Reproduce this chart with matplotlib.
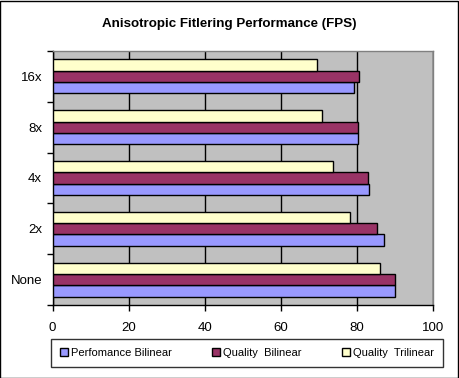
import numpy as np
import matplotlib.pyplot as plt
from matplotlib.patches import Rectangle

#------------Data----------------------#
categories = ["None", "2x", "4x", "8x", "16x"]
perf_bilinear = [90.0, 87.1, 83.3, 80.3, 79.3]
qual_bilinear = [90.0, 85.3, 82.9, 80.3, 80.6]
qual_trilinear = [86.1, 78.3, 73.7, 70.9, 69.4]
series_names = ["Perfomance Bilinear", "Quality  Bilinear", "Quality  Trilinear"]
colors = ["#9999FF", "#993366", "#FFFFCC"]

plt.rcParams['font.family'] = ['Liberation Sans', 'DejaVu Sans']

#------------Figure----------------------#
fig = plt.figure(figsize=(4.59, 3.78), dpi=100)
ax = fig.add_axes([52.5 / 459, 1 - 305 / 378, 380.5 / 459, 254 / 378])
ax.set_facecolor("#C0C0C0")

y = np.arange(len(categories))
h = 1 / 4.5
for i, vals in enumerate([perf_bilinear, qual_bilinear, qual_trilinear]):
    ax.barh(y + (i - 1) * h, vals, height=h, color=colors[i],
            edgecolor="black", linewidth=1.0, label=series_names[i], zorder=3)

ax.set_xlim(0, 100)
ax.set_ylim(-0.5, len(categories) - 0.5)
ax.set_xticks([0, 20, 40, 60, 80, 100])
ax.xaxis.grid(True, color="black", linewidth=1.0, zorder=1)
ax.set_axisbelow(True)

ax.set_yticks(y)
ax.set_yticklabels(categories)
ax.set_yticks(np.arange(-0.5, len(categories)), minor=True)
ax.tick_params(axis="y", which="major", length=0, pad=7.5, labelsize=9.5)
ax.tick_params(axis="y", which="minor", length=4, width=1, direction="out")
ax.tick_params(axis="x", length=4, width=1, direction="out", pad=8, labelsize=9.5)

for s in ["left", "bottom"]:
    ax.spines[s].set_color("black")
    ax.spines[s].set_linewidth(1)
for s in ["top", "right"]:
    ax.spines[s].set_color("#808080")
    ax.spines[s].set_linewidth(1)

fig.text(0.5, 1 - 24 / 378, "Anisotropic Fitlering Performance (FPS)",
         ha="center", va="center", fontsize=9.6, fontweight="bold")

#------------Legend----------------------#
leg = fig.legend(loc="center", ncol=3, mode="expand",
                 bbox_to_anchor=(51 / 459, 1 - 369 / 378, 392 / 459, 32 / 378),
                 fontsize=8, frameon=True, fancybox=False, borderaxespad=0,
                 handlelength=0.7, handleheight=0.7, handletextpad=0.3,
                 borderpad=0.8)
leg.get_frame().set_edgecolor("black")
leg.get_frame().set_linewidth(1)

# outer border
fig.patches.append(Rectangle((0.001, 0.001), 0.997, 0.997, transform=fig.transFigure,
                             fill=False, edgecolor="black", linewidth=1))

fig.savefig("out.png", dpi=100)
